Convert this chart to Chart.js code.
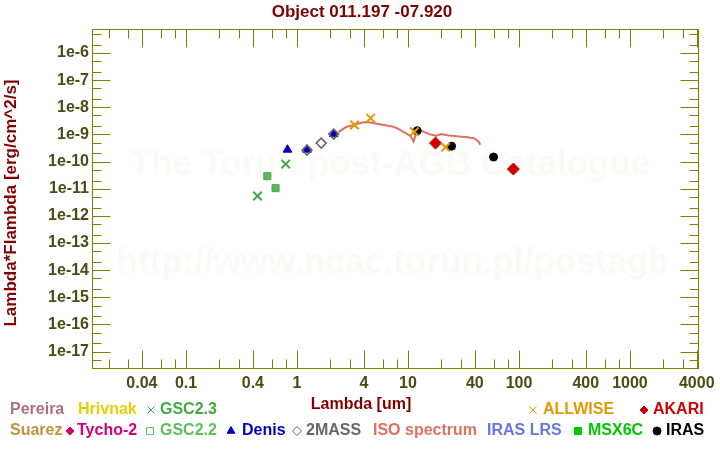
<!DOCTYPE html>
<html>
<head>
<meta charset="utf-8">
<script src="https://cdn.jsdelivr.net/npm/chart.js@4.4.1/dist/chart.umd.min.js"></script>
<style>
  body { margin: 0; background: #fff; }
  #wrap { width: 720px; height: 450px; }
</style>
</head>
<body>
<div id="wrap"><canvas id="sed" width="720" height="450"></canvas></div>
<script>
// tick labels
const xTickLabels = ['0.04', '0.1', '0.4', '1', '4', '10', '40', '100', '400', '1000', '4000'];
const yTickLabels = ['1e-6', '1e-7', '1e-8', '1e-9', '1e-10', '1e-11', '1e-12', '1e-13', '1e-14', '1e-15', '1e-16', '1e-17'];

// photometry: wavelength [um] and lambda*F_lambda [erg/cm^2/s]
const gsc23Lam = [0.44, 0.79];
const gsc23Flux = [5.4e-12, 8.1e-11];

const gsc22Lam = [0.54, 0.64];
const gsc22Flux = [2.9e-11, 1.05e-11];

const denisLam = [0.82, 1.23, 2.14];
const denisFlux = [2.75e-10, 2.73e-10, 1.03e-9];

const twomassLam = [1.23, 1.65, 2.14];
const twomassFlux = [2.65e-10, 4.8e-10, 1.03e-9];

const allwiseLam = [3.3, 4.6, 11.4, 21.8];
const allwiseFlux = [2.22e-9, 4.0e-9, 1.26e-9, 3.4e-10];

const irasLam = [12.1, 24.7, 59];
const irasFlux = [1.37e-9, 3.7e-10, 1.47e-10];

const akariLam = [17.7, 89];
const akariFlux = [4.8e-10, 5.3e-11];

// ISO SWS spectrum (read by eye)
const isoLam = [2.37, 2.55, 2.76, 3.0, 3.3, 3.6, 3.9, 4.2, 4.6, 5.2, 5.9, 6.6, 7.3, 8.1, 8.9, 9.8, 10.6, 11.0, 11.2, 11.5, 11.8, 12.4, 13.1, 14.2, 15.6, 16.8, 17.9, 18.8, 19.8, 21.5, 23.2, 25.2, 27.5, 30.2, 33.3, 36.5, 39.0, 41.0, 43.0, 44.8];
const isoFlux = [1.22e-9, 1.5e-9, 1.87e-9, 2.05e-9, 2.25e-9, 2.55e-9, 2.77e-9, 2.85e-9, 2.77e-9, 2.5e-9, 2.27e-9, 2.1e-9, 1.97e-9, 1.65e-9, 1.29e-9, 1.05e-9, 8.4e-10, 6.6e-10, 5.5e-10, 7.5e-10, 1.12e-9, 1.3e-9, 1.4e-9, 1.2e-9, 1.03e-9, 9.5e-10, 8.9e-10, 9.6e-10, 1.03e-9, 9.8e-10, 9.2e-10, 8.9e-10, 8.6e-10, 8.2e-10, 8.0e-10, 7.6e-10, 7.4e-10, 6.4e-10, 5.6e-10, 4.2e-10];

const FONT = '"Liberation Sans", Arial, sans-serif';
const OLIVE = '#808000';
const TICKTXT = '#4b4b16';
const MAROON = '#800000';

function pts(lam, flux) {
  return lam.map((l, i) => ({ x: l, y: flux[i] }));
}

// legend (no box, just coloured text + symbol)
const legendItems = [
  { text: 'Pereira', color: '#b06e82', x: 10, y: 410 },
  { text: 'Hrivnak', color: '#e6cf00', x: 78, y: 410 },
  { text: 'GSC2.3', color: '#44a844', x: 160, y: 410, sym: 'crossRot', sx: 151 },
  { text: 'ALLWISE', color: '#e09a00', x: 543, y: 410, sym: 'crossRot', sx: 533 },
  { text: 'AKARI', color: '#d00000', x: 653, y: 410, sym: 'rectRot', sx: 644 },
  { text: 'Suarez', color: '#c3913f', x: 10, y: 431 },
  { text: 'Tycho-2', color: '#d0007a', x: 77, y: 431, sym: 'rectRot', sx: 70 },
  { text: 'GSC2.2', color: '#5cc05c', x: 160, y: 431, sym: 'rectOpen', sx: 150 },
  { text: 'Denis', color: '#0000c0', x: 242, y: 431, sym: 'triangle', sx: 231 },
  { text: '2MASS', color: '#666666', x: 306, y: 431, sym: 'diamondOpen', sx: 297 },
  { text: 'ISO spectrum', color: '#e07060', x: 373, y: 431 },
  { text: 'IRAS LRS', color: '#6677dd', x: 487, y: 431 },
  { text: 'MSX6C', color: '#00c800', x: 588, y: 431, sym: 'rect', sx: 578 },
  { text: 'IRAS', color: '#000000', x: 666, y: 431, sym: 'circle', sx: 657 }
];

function line(ctx, x1, y1, x2, y2) {
  ctx.beginPath(); ctx.moveTo(x1, y1); ctx.lineTo(x2, y2); ctx.stroke();
}

const decor = {
  id: 'decor',
  beforeDatasetsDraw(chart) {
    const ctx = chart.ctx;
    ctx.save();
    ctx.fillStyle = '#fbfaf6';
    ctx.font = 'bold 35px ' + FONT;
    ctx.textAlign = 'center';
    ctx.textBaseline = 'alphabetic';
    ctx.fillText('The Torun post-AGB Catalogue', 390, 175);
    ctx.fillText('http://www.ncac.torun.pl/postagb', 393, 273);
    ctx.restore();
  },
  afterDraw(chart) {
    const ctx = chart.ctx;
    const xs = chart.scales.x, ys = chart.scales.y;
    const a = chart.chartArea;
    const L = Math.round(a.left) + 0.5, R = Math.round(a.right) - 0.5;
    const T = Math.round(a.top) + 0.5, B = Math.round(a.bottom) - 0.5;
    ctx.save();
    ctx.strokeStyle = OLIVE;
    ctx.lineWidth = 1;
    ctx.strokeRect(L, T, R - L, B - T);

    // inward tick marks
    const xMajor = xTickLabels.map(Number);
    const xMinor = [];
    const yMinor = [];
    for (let e = -2; e <= 3; e++) {
      [2, 3, 6, 8].forEach(m => xMinor.push(m * Math.pow(10, e)));
    }
    for (let e = -18; e <= -6; e++) {
      [2, 5].forEach(m => yMinor.push(m * Math.pow(10, e)));
    }
    const vtick = (v, len) => {
      if (v < xs.min || v > xs.max) return;
      const p = Math.round(xs.getPixelForValue(v)) + 0.5;
      line(ctx, p, B, p, B - len);
      line(ctx, p, T, p, T + len);
    };
    const htick = (v, len) => {
      if (v < ys.min || v > ys.max) return;
      const p = Math.round(ys.getPixelForValue(v)) + 0.5;
      line(ctx, L, p, L + len, p);
      line(ctx, R, p, R - len, p);
    };
    xMajor.forEach(v => vtick(v, 18));
    xMinor.forEach(v => vtick(v, 9));
    yTickLabels.map(Number).forEach(v => htick(v, 18));
    yMinor.forEach(v => htick(v, 9));

    // title + axis titles
    ctx.fillStyle = MAROON;
    ctx.textAlign = 'center';
    ctx.textBaseline = 'alphabetic';
    ctx.font = 'bold 17px ' + FONT;
    ctx.fillText('Object 011.197 -07.920', 362, 17);
    ctx.font = 'bold 16px ' + FONT;
    ctx.fillText('Lambda [um]', 361, 409);
    ctx.save();
    ctx.translate(16, 203);
    ctx.rotate(-Math.PI / 2);
    ctx.font = 'bold 17px ' + FONT;
    ctx.fillText('Lambda*Flambda [erg/cm^2/s]', 0, 0);
    ctx.restore();

    // legend
    ctx.textAlign = 'left';
    ctx.textBaseline = 'middle';
    ctx.font = 'bold 16px ' + FONT;
    legendItems.forEach(it => {
      ctx.fillStyle = it.color;
      ctx.strokeStyle = it.color;
      ctx.fillText(it.text, it.x, it.y);
      if (!it.sym) return;
      let style = it.sym, r = 4, bw = 1;
      if (style === 'crossRot') { r = 5; bw = 2; }
      if (style === 'rectOpen') { style = 'rect'; r = 4.5; bw = 1.5; ctx.fillStyle = 'rgba(0,0,0,0)'; }
      if (style === 'diamondOpen') { style = 'rectRot'; r = 4.5; bw = 1.5; ctx.fillStyle = 'rgba(0,0,0,0)'; }
      if (style === 'rect') r = 5;
      if (style === 'triangle') r = 4.5;
      Chart.helpers.drawPoint(ctx, { pointStyle: style, rotation: 0, radius: r, borderWidth: bw }, it.sx, it.y);
    });
    ctx.restore();
  }
};

new Chart(document.getElementById('sed'), {
  type: 'scatter',
  plugins: [decor],
  data: {
    datasets: [
      {
        label: 'GSC2.3', data: pts(gsc23Lam, gsc23Flux),
        pointStyle: 'crossRot', pointRadius: 6, borderColor: '#44a844', borderWidth: 2, order: 1
      },
      {
        label: 'GSC2.2', data: pts(gsc22Lam, gsc22Flux),
        pointStyle: 'rect', pointRadius: 5, backgroundColor: '#5cb85c', borderColor: '#49a849', borderWidth: 1, order: 1
      },
      {
        label: 'Denis', data: pts(denisLam, denisFlux),
        pointStyle: 'triangle', pointRadius: 5, backgroundColor: '#0000c0', borderColor: '#0000c0', borderWidth: 1, order: 2
      },
      {
        label: '2MASS', data: pts(twomassLam, twomassFlux),
        pointStyle: 'rectRot', pointRadius: 5, backgroundColor: 'rgba(0,0,0,0)', borderColor: '#666666', borderWidth: 1.5, order: 1
      },
      {
        label: 'ALLWISE', data: pts(allwiseLam, allwiseFlux),
        pointStyle: 'crossRot', pointRadius: 6, borderColor: '#e09a00', borderWidth: 2, order: 1
      },
      {
        label: 'IRAS', data: pts(irasLam, irasFlux),
        pointStyle: 'circle', pointRadius: 4, backgroundColor: '#000000', borderColor: '#000000', borderWidth: 1, order: 2
      },
      {
        label: 'AKARI', data: pts(akariLam, akariFlux),
        pointStyle: 'rectRot', pointRadius: 6, backgroundColor: '#cc0000', borderColor: '#cc0000', borderWidth: 1, order: 1
      },
      {
        label: 'ISO spectrum', data: pts(isoLam, isoFlux),
        showLine: true, pointRadius: 0, borderColor: '#e07060', borderWidth: 2, order: 5
      }
    ]
  },
  options: {
    responsive: false,
    animation: false,
    layout: { padding: { top: 29, right: 21, bottom: 0, left: 0 } },
    plugins: { legend: { display: false }, tooltip: { enabled: false } },
    scales: {
      x: {
        type: 'logarithmic',
        min: 0.0142,
        max: 4190,
        grid: { display: false, drawTicks: false },
        border: { display: false },
        ticks: {
          autoSkip: false, maxRotation: 0, padding: 5, color: TICKTXT,
          font: { family: FONT, size: 16, weight: 'bold' },
          callback: (v, i) => xTickLabels[i]
        },
        afterBuildTicks: s => { s.ticks = xTickLabels.map(l => ({ value: Number(l) })); },
        afterFit: s => { s.height = 81; }
      },
      y: {
        type: 'logarithmic',
        min: 2.29e-18,
        max: 7.67e-6,
        grid: { display: false, drawTicks: false },
        border: { display: false },
        ticks: {
          autoSkip: false, padding: 3, color: TICKTXT,
          font: { family: FONT, size: 16, weight: 'bold' },
          callback: (v, i) => yTickLabels[i]
        },
        afterBuildTicks: s => { s.ticks = yTickLabels.map(l => ({ value: Number(l) })); },
        afterFit: s => { s.width = 92; }
      }
    }
  }
});
</script>
</body>
</html>
